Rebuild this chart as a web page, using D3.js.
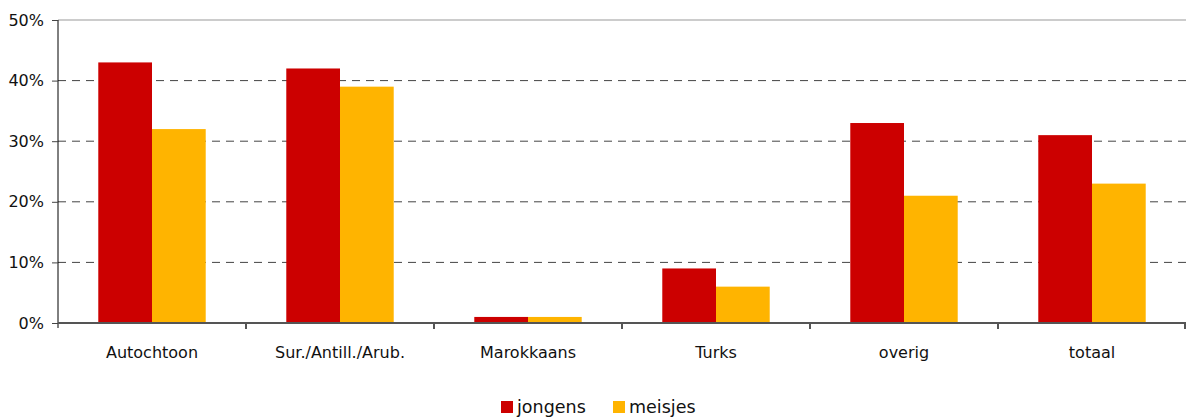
<!DOCTYPE html>
<html>
  <head>
    <style>
      body,
      html {
        margin: 0;
        padding: 0;
        background: #fff;
      }
      text {
        font-family: 'DejaVu Sans', sans-serif;
        fill: #111;
      }
    </style>
  </head>
  <body>
    <svg id="svg" width="1186" height="419"></svg>
    <script src="https://cdn.jsdelivr.net/npm/d3@7"></script>
    <script>
      const categories = ['Autochtoon', 'Sur./Antill./Arub.', 'Marokkaans', 'Turks', 'overig', 'totaal'];
      const seriesNames = ['jongens', 'meisjes'];
      const jongens = [43, 42, 1, 9, 33, 31];
      const meisjes = [32, 39, 1, 6, 21, 23];
      const yTicks = [0, 10, 20, 30, 40, 50];
      const colors = ['#cc0000', '#ffb400'];

      const width = 1186;
      const plotLeft = 58;
      const plotTop = 20;
      const plotBottom = 323;

      const data = categories.map((c, i) => ({ cat: c, values: [jongens[i], meisjes[i]] }));

      const xScale = d3.scaleBand().domain(categories).range([plotLeft, width]);
      // excel style: gap width 150%
      const barW = xScale.bandwidth() / 3.5;
      const yScale = d3.scaleLinear().domain([0, 50]).range([plotBottom, plotTop]);

      const svg = d3.select('#svg');

      // gridlines
      svg
        .append('g')
        .selectAll('line')
        .data(yTicks.filter((t) => t > 0))
        .enter()
        .append('line')
        .attr('x1', plotLeft)
        .attr('x2', width)
        .attr('y1', (d) => yScale(d))
        .attr('y2', (d) => yScale(d))
        .attr('stroke', (d) => (d === 50 ? '#999' : '#444'))
        .attr('stroke-width', 1)
        .attr('stroke-dasharray', (d) => (d === 50 ? null : '8,6'));

      // bars
      const groups = svg
        .append('g')
        .selectAll('g')
        .data(data)
        .enter()
        .append('g')
        .attr('transform', (d) => `translate(${xScale(d.cat) + barW * 0.75},0)`);

      groups
        .selectAll('rect')
        .data((d) => d.values)
        .enter()
        .append('rect')
        .attr('x', (d, i) => i * barW)
        .attr('y', (d) => yScale(d))
        .attr('width', barW)
        .attr('height', (d) => plotBottom - yScale(d))
        .attr('fill', (d, i) => colors[i]);

      // y axis
      const yAxis = svg
        .append('g')
        .attr('transform', `translate(${plotLeft},0)`)
        .call(
          d3
            .axisLeft(yScale)
            .tickValues(yTicks)
            .tickSize(6)
            .tickPadding(8)
            .tickFormat((d) => d + '%')
        );
      yAxis.select('.domain').attr('stroke', '#000').attr('d', `M0,${plotTop}V${plotBottom + 5}`);
      yAxis.selectAll('.tick line').attr('stroke', '#444');
      yAxis.selectAll('text').attr('font-size', 16).attr('fill', '#111').attr('font-family', 'DejaVu Sans');

      // x axis
      const xAxis = svg
        .append('g')
        .attr('transform', `translate(0,${plotBottom})`)
        .call(d3.axisBottom(xScale).tickSize(0).tickPadding(24));
      xAxis.select('.domain').attr('stroke', '#555').attr('stroke-width', 2).attr('d', `M${plotLeft},0H${width}`);
      xAxis.selectAll('text').attr('font-size', 16).attr('fill', '#111').attr('font-family', 'DejaVu Sans');

      svg
        .append('g')
        .selectAll('line')
        .data(categories.slice(1).map((c) => xScale(c)).concat([width - 1]))
        .enter()
        .append('line')
        .attr('x1', (d) => d)
        .attr('x2', (d) => d)
        .attr('y1', plotBottom)
        .attr('y2', plotBottom + 6)
        .attr('stroke', '#555')
        .attr('stroke-width', 2);

      // legend
      const legendX = [501, 613];
      const legend = svg
        .append('g')
        .selectAll('g')
        .data(seriesNames)
        .enter()
        .append('g')
        .attr('transform', (d, i) => `translate(${legendX[i]},401)`);
      legend
        .append('rect')
        .attr('width', 12)
        .attr('height', 12)
        .attr('fill', (d, i) => colors[i]);
      legend
        .append('text')
        .attr('x', 16)
        .attr('y', 12)
        .attr('font-size', 17.5)
        .text((d) => d);
    </script>
  </body>
</html>
